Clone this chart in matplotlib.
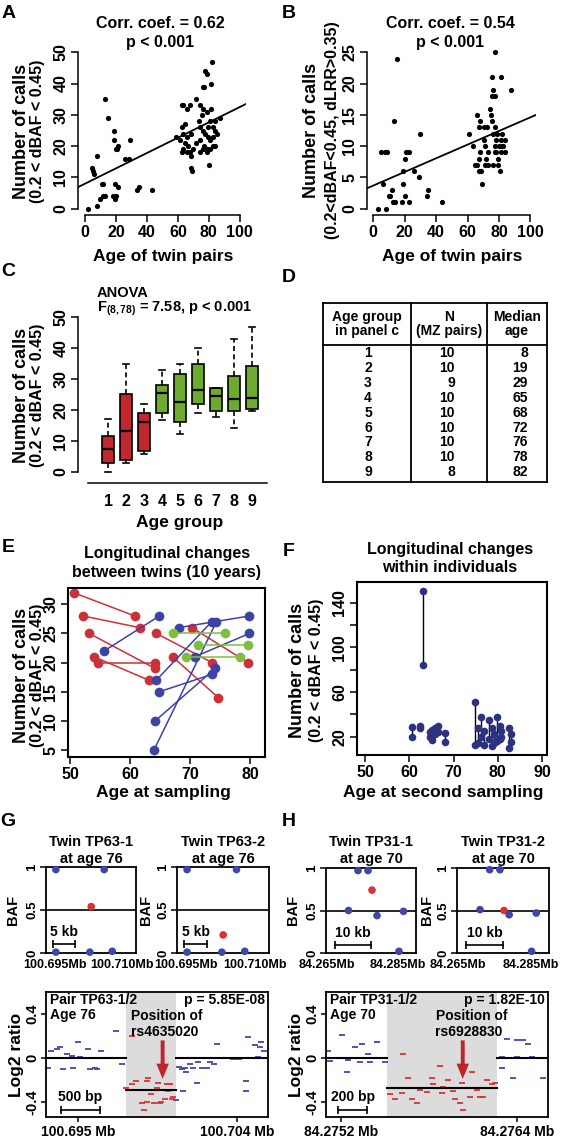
import matplotlib.pyplot as plt

plt.rcParams['font.family'] = ['Liberation Sans', 'DejaVu Sans']
plt.rcParams['font.weight'] = 'bold'
plt.rcParams['mathtext.fontset'] = 'custom'
plt.rcParams['mathtext.rm'] = 'Liberation Sans:bold'
plt.rcParams['mathtext.it'] = 'Liberation Sans:bold'
plt.rcParams['mathtext.bf'] = 'Liberation Sans:bold'
plt.rcParams['mathtext.default'] = 'rm'

# ---------------- data ----------------
# A: calls vs age of twin pairs
a_age = [2.2, 7.5, 4.3, 5.4, 6, 8, 9.7, 11.8, 10.8, 11.8, 12.9, 18.3, 19.4, 19.8, 19.4, 21.5,
         12.9, 14.6, 19, 19, 20, 21.5, 20.4, 29, 25.8, 28.6, 33.8, 35, 43,
         62.4, 63.4, 65.6, 67.7, 64.5, 62.4, 63.4, 59.1, 65.6, 68.8, 61.3, 64.5, 66.7, 63.4,
         65.6, 62.4, 68.8, 67.7, 69.9, 68.8, 69.4,
         72.0, 74.2, 76.3, 78.5, 75.3, 73.8, 74.2, 76.3, 77.4, 74.2, 72.0, 76.8, 78.5, 80.6,
         82.8, 76.3, 74.2, 78.5, 80.0,
         77.4, 78.5, 76.3, 76.8, 81.7, 82.2, 81.7, 80.6, 83.9, 87.0, 82.8, 83.9, 82.8, 83.9,
         79.6, 80.6, 79.6, 85.0]
a_calls = [0, 1, 13, 12, 11, 17, 3, 4, 8, 8, 4, 4, 3, 4, 8, 7,
           35, 29, 25, 22, 19, 20, 19, 22, 16, 16, 6, 7, 6,
           33, 33, 32, 33, 27, 26, 24, 23, 23, 24, 22, 21, 20, 19,
           18, 18, 17, 18, 19, 13, 12,
           35, 33, 32, 31, 30, 28, 26, 25, 24, 22, 21, 20, 19, 19,
           20, 19, 18, 18, 14,
           44, 43, 39, 39, 40, 47, 32, 28, 28, 29, 26, 25, 23, 20,
           23, 22, 26, 24]
a_fit = (8.0, 0.245)

# B: calls (with dLRR filter) vs age
b_age = [3, 8.3, 5.2, 7.3, 8.7, 6.5, 9.7, 10.7, 11.8, 12.5, 14, 13, 15, 18, 19, 20, 22.5,
         19, 20, 21, 22.5, 26, 29, 29.5, 34, 35, 43.7,
         60.7, 63.5, 65, 66, 67.1, 68.1, 67.1, 68.8, 69.2, 66, 67.7, 67.1, 70.3, 72.4, 70.3,
         71.4, 72, 72.9, 71.4, 74, 75, 75.5, 77.2, 76.1, 75.5, 77.2, 76.1, 75.5, 77.8, 78.3,
         77.2, 78.3, 79.4, 80.5, 80.5, 81.5, 82, 82.6, 83.6, 83.6, 81.5, 87.5, 79.4, 77.2,
         80, 81, 82, 79, 76, 73]
b_calls = [0, 0, 9, 9, 9, 4, 2, 2, 3, 1, 1, 14, 24, 1, 4, 2, 1,
           6, 8, 9, 9, 6, 5, 12, 2, 3, 1,
           12, 10, 7, 7, 8, 9, 6, 6, 4, 15, 14, 13, 13, 13, 11,
           10, 8, 9, 7, 16, 15, 14, 13, 12, 18, 18, 19, 21, 25, 11,
           10, 9, 8, 6, 10, 11, 12, 10, 11, 9, 21, 19, 7, 9,
           10, 9, 10, 12, 7, 7]
b_fit = (3.7, 0.109)

# C: boxplot per age group
c_group = [1, 2, 3, 4, 5, 6, 7, 8, 9]
c_whislo = [0, 2.7, 5.6, 16.7, 12, 19, 17.7, 14, 19.5]
c_q1 = [2.7, 3.8, 6.7, 19, 15.9, 21.8, 19.7, 19.7, 20.1]
c_med = [7.2, 13.2, 16.1, 25.5, 22.4, 26.3, 24.4, 23.3, 23.7]
c_q3 = [11.5, 25, 18.8, 28, 31.5, 34.7, 26.9, 30.9, 34.2]
c_whishi = [16.9, 34.7, 22, 32.8, 34.6, 39.8, 27, 42.7, 46.8]
c_young = [True, True, True, False, False, False, False, False, False]

# D: table
d_group = ['1', '2', '3', '4', '5', '6', '7', '8', '9']
d_pairs = ['10', '10', '9', '10', '10', '10', '10', '10', '8']
d_median = ['8', '19', '29', '65', '68', '72', '76', '78', '82']

# E: twin pairs sampled 10 years apart
e_age1 = [50.6, 52.2, 53.2, 54.0, 54.6, 64.4, 67.1, 70.3,
          55.7, 68.1, 64.4, 64.9, 64.2, 64.0, 70.8,
          67.2, 71.4, 69.4]
e_calls1 = [32, 28, 25, 21, 20, 25, 21, 26,
            22, 26, 17, 15, 10, 5, 21,
            25, 23, 21]
e_age2 = [60.8, 61.6, 64.2, 63.1, 64.2, 73.7, 74.7, 79.7,
          64.9, 79.9, 73.6, 73.7, 74.2, 74.4, 79.9,
          75.8, 79.7, 78.3]
e_calls2 = [28, 26, 19, 17, 20, 20, 14, 20,
            28, 28, 27, 18, 19, 27, 25,
            25, 23, 21]
e_trend = ['down'] * 8 + ['up'] * 7 + ['flat'] * 3

# F: individuals sampled twice
f_age = [60.6, 62.5, 64.6, 65.2, 65.7, 66.4, 68.0, 63.2, 74.9, 75.5, 76.2, 76.8,
         78.1, 78.6, 79.1, 79.8, 80.4, 80.8, 82.5, 82.9]
f_first = [29, 30, 24, 26, 28, 30, 23, 150, 51, 28, 38, 25, 35, 28, 22, 38, 30, 25, 28, 22]
f_second = [20, 28, 20, 17, 22, 24, 15, 84, 13, 14, 20, 13, 18, 12, 14, 16, 18, 20, 10, 15]

# G/H top: BAF at SNPs
g_snp_mb = [100.6952, 100.7060, 100.7031, 100.6952, 100.7028, 100.7078]
g1_baf = [0.97, 0.97, 0.54, 0.01, 0.01, 0.02]
g2_baf = [0.97, 0.97, 0.21, 0.01, 0.01, 0.02]
h_snp_mb = [84.27373, 84.27655, 84.27768, 84.27106, 84.27909, 84.28655, 84.28528]
h1_baf = [0.97, 0.97, 0.74, 0.50, 0.44, 0.49, 0.02]
h2_baf = [0.98, 0.98, 0.50, 0.51, 0.45, 0.47, 0.02]
g_test_snp = 2
h_test_snp = 2

# G/H bottom: log2 ratio probes (kb from first tick)
g_probe_kb = [-0.38, -0.34, -0.27, -0.23, -0.19, -0.145, -0.08, -0.06, 0.004, 0.026, 0.13, 0.15,
              0.22, 0.24, 0.30, 0.41, 0.49, 0.56,
              0.62, 0.69, 0.69, 0.75, 0.79, 0.82, 0.84, 0.88, 0.88, 0.90, 0.94, 0.97, 1.01,
              1.03, 1.05, 1.07, 1.12, 1.14, 1.16, 1.18, 1.20, 1.22, 1.26,
              1.29, 1.33, 1.35, 1.37, 1.39, 1.44, 1.48, 1.52, 1.54, 1.59, 1.65, 1.69, 1.74,
              1.78, 1.99, 2.06, 2.16, 2.16, 2.18, 2.27, 2.31, 2.33, 2.35, 2.38]
g_log2 = [-0.087, 0.062, 0.084, 0.10, -0.10, 0.037, 0.022, -0.087, 0.146, 0.012, 0.084, -0.10,
          -0.087, -0.10, 0.062, 0.0, 0.248, -0.05,
          -0.27, 0.20, -0.24, -0.21, -0.29, -0.41, -0.47, -0.40, -0.21, -0.18, -0.33, -0.41,
          -0.27, -0.23, -0.41, -0.40, -0.37, -0.24, -0.30, -0.24, -0.37, -0.35, -0.38,
          -0.08, -0.10, -0.30, -0.087, -0.13, -0.056, -0.087, -0.23, -0.04, -0.087, -0.087,
          -0.04, -0.056, 0.13, -0.01, -0.01, -0.21, -0.30, 0.19, 0.115, 0.006, 0.10, 0.146, 0.068]
g_region_kb = (0.615, 1.256)
g_seg_mean = (0.0, -0.29, 0.0)
g_ticks_kb = [0.0, 2.04]
g_tick_labels = ['100.695 Mb', '100.704 Mb']

h_probe_kb = [-0.086, -0.075, 0.005, 0.039, 0.05, 0.095, 0.13, 0.14, 0.186, 0.198, 0.243, 0.266,
              0.30,
              0.334, 0.368, 0.414, 0.425, 0.459, 0.482, 0.516, 0.539, 0.584, 0.618, 0.63, 0.675,
              0.686, 0.698, 0.732, 0.766, 0.777, 0.811, 0.823, 0.834, 0.88, 0.891, 0.925,
              0.948, 0.97, 0.993, 1.027, 1.05,
              1.095, 1.095, 1.13, 1.14, 1.175, 1.198, 1.198, 1.243, 1.277, 1.3, 1.38, 1.38]
h_log2 = [0.068, -0.025, 0.208, -0.124, -0.02, 0.10, -0.04, 0.124, 0.037, -0.04, 0.146, 0.0,
          -0.04,
          -0.33, -0.37, -0.32, 0.037, -0.18, -0.37, -0.41, -0.29, -0.31, -0.18, -0.24, -0.07,
          -0.32, -0.26, -0.20, -0.30, -0.37, -0.41, -0.23, -0.47, -0.35, -0.13, -0.29,
          -0.35, -0.35, -0.20, -0.24, -0.23,
          -0.087, 0.01, 0.177, 0.0, -0.18, 0.012, 0.16, 0.16, 0.13, 0.006, -0.18, 0.0]
h_region_kb = (0.311, 1.061)
h_seg_mean = (0.0, -0.27, 0.0)
h_ticks_kb = [0.0, 1.2]
h_tick_labels = ['84.2752 Mb', '84.2764 Mb']

RED = '#C3272E'
GREEN = '#6EAA2E'
E_RED = '#CC3038'
E_BLUE = '#3D43A3'
E_GREEN = '#82BE3E'
NAVY = '#2C3182'
P_BLUE = '#3F46A8'
P_RED = '#D93232'

# ---------------- figure ----------------
W, H = 561, 1142
fig = plt.figure(figsize=(W / 100, H / 100), dpi=100)


def px_axes(l, t, r, b):
    return fig.add_axes([l / W, 1 - b / H, (r - l) / W, (b - t) / H])


def ftxt(x, y, s, size=11, **kw):
    kw.setdefault('ha', 'center')
    kw.setdefault('va', 'center')
    return fig.text(x / W, 1 - y / H, s, fontsize=size, fontweight='bold', **kw)


def r_style(ax, xb, yb):
    for s in ('top', 'right'):
        ax.spines[s].set_visible(False)
    ax.spines['left'].set_bounds(*yb)
    ax.spines['bottom'].set_bounds(*xb)
    for s in ('left', 'bottom'):
        ax.spines[s].set_linewidth(1.1)
    ax.tick_params(direction='out', length=5, width=1.1, labelsize=11.5, pad=2)


def rot_y(ax):
    plt.setp(ax.get_yticklabels(), rotation=90, va='center')


def ylab2(x1, x2, y, second):
    ftxt(x1, y, 'Number of calls', 13, rotation=90)
    ftxt(x2, y, second, 11.5, rotation=90)


# panel letters
for lab, x, y in [('A', 9, 13), ('B', 289, 13), ('C', 8, 271), ('D', 289, 277),
                  ('E', 8, 547), ('F', 289, 551), ('G', 8, 821), ('H', 289, 821)]:
    ftxt(x, y, lab, 14)

# ---- A ----
ax = px_axes(78, 46, 246, 215)
ax.scatter(a_age, a_calls, s=14, color='black', zorder=3, linewidths=0)
ax.axline((0, a_fit[0]), slope=a_fit[1], color='black', lw=1.3)
ax.set_xlim(-4.5, 104)
ax.set_ylim(-2, 52)
ax.set_xticks(range(0, 101, 20))
ax.set_yticks(range(0, 51, 10))
r_style(ax, (0, 100), (0, 50))
rot_y(ax)
ftxt(160, 23, 'Corr. coef. = 0.62', 11.5)
ftxt(160, 43, 'p < 0.001', 11.5)
ftxt(163, 257, 'Age of twin pairs', 12.5)
ylab2(22, 38, 131, '(0.2 < dBAF < 0.45)')

# ---- B ----
ax = px_axes(367, 46, 536, 215)
ax.scatter(b_age, b_calls, s=14, color='black', zorder=3, linewidths=0)
ax.axline((0, b_fit[0]), slope=b_fit[1], color='black', lw=1.3)
ax.set_xlim(-4, 103.6)
ax.set_ylim(-1, 26)
ax.set_xticks(range(0, 101, 20))
ax.set_yticks(range(0, 26, 5))
r_style(ax, (0, 100), (0, 25))
rot_y(ax)
ftxt(450, 23, 'Corr. coef. = 0.54', 11.5)
ftxt(450, 43, 'p < 0.001', 11.5)
ftxt(452, 257, 'Age of twin pairs', 12.5)
ylab2(312, 333, 130, '(0.2<dBAF<0.45, dLRR>0.35)')

# ---- C ----
ax = px_axes(78, 313, 267, 483)
stats = []
for i in range(len(c_group)):
    stats.append(dict(med=c_med[i], q1=c_q1[i], q3=c_q3[i],
                      whislo=c_whislo[i], whishi=c_whishi[i], fliers=[]))
bp = ax.bxp(stats, positions=c_group, widths=0.72, patch_artist=True, showfliers=False,
            capwidths=0.36,
            boxprops=dict(linewidth=1.2, edgecolor='black'),
            whiskerprops=dict(linewidth=1.2, linestyle=(0, (3, 2))),
            capprops=dict(linewidth=1.2),
            medianprops=dict(color='black', linewidth=1.6))
for patch, young in zip(bp['boxes'], c_young):
    patch.set_facecolor(RED if young else GREEN)
ax.set_xlim(-0.667, 9.833)
ax.set_ylim(-3.65, 51.2)
ax.set_xticks(c_group)
ax.set_yticks(range(0, 51, 10))
r_style(ax, (-0.11, 9.83), (0, 50))
ax.tick_params(axis='x', length=0, pad=8)
rot_y(ax)
ftxt(97, 293, 'ANOVA', 10.5, ha='left')
ftxt(97, 309, r'F$_{\mathrm{(8,78)}}$ = 7.58, p < 0.001', 10.5, ha='left')
ftxt(180, 522, 'Age group', 12.5)
ylab2(22, 38, 395, '(0.2 < dBAF < 0.45)')

# ---- D (table) ----
ax = px_axes(280, 220, 561, 480)
ax.set_xlim(280, 561)
ax.set_ylim(480, 220)
ax.axis('off')
tl, tr, tt, tb = 323, 547, 303, 482
for xs, ys in [([tl, tr], [tt, tt]), ([tl, tr], [tb, tb]), ([tl, tl], [tt, tb]),
               ([tr, tr], [tt, tb]), ([411, 411], [tt, tb]), ([487, 487], [tt, tb]),
               ([tl, tr], [345, 345])]:
    ax.plot(xs, ys, color='black', lw=1.3, clip_on=False)
ax.text(367, 324, 'Age group\nin panel c', ha='center', va='center', fontsize=10,
        linespacing=1.0)
ax.text(449, 324, 'N\n(MZ pairs)', ha='center', va='center', fontsize=10, linespacing=1.0)
ax.text(517, 324, 'Median\nage', ha='center', va='center', fontsize=10, linespacing=1.0)
for i in range(len(d_group)):
    yy = 353 + i * 14.9
    ax.text(368, yy, d_group[i], ha='center', va='center', fontsize=10)
    ax.text(455, yy, d_pairs[i], ha='right', va='center', fontsize=10)
    ax.text(528, yy, d_median[i], ha='right', va='center', fontsize=10)

# ---- E ----
ax = px_axes(68, 588, 265, 757)
ecol = {'down': E_RED, 'up': E_BLUE, 'flat': E_GREEN}
for trend in ('down', 'up', 'flat'):
    for i in range(len(e_age1)):
        if e_trend[i] != trend:
            continue
        ax.plot([e_age1[i], e_age2[i]], [e_calls1[i], e_calls2[i]], '-o', color=ecol[trend],
                lw=1.1, ms=7, mew=0)
ax.set_xlim(49.67, 82.5)
ax.set_ylim(3.8, 32.8)
ax.set_xticks([50, 60, 70, 80])
ax.set_yticks(range(5, 31, 5))
for s in ax.spines.values():
    s.set_linewidth(1.5)
ax.tick_params(direction='out', length=5, width=1.1, labelsize=11.5, pad=2)
rot_y(ax)
ftxt(167, 553, 'Longitudinal changes', 11.5)
ftxt(167, 572, 'between twins (10 years)', 11.5)
ftxt(163, 793, 'Age at sampling', 12.5)
ylab2(22, 38, 675, '(0.2 < dBAF < 0.45)')

# ---- F ----
ax = px_axes(357, 582, 547, 755)
for i in range(len(f_age)):
    ax.plot([f_age[i], f_age[i]], [f_first[i], f_second[i]], color='black', lw=1.0)
ax.plot(f_age, f_first, 'o', color=NAVY, ms=5.5, mew=0)
ax.plot(f_age, f_second, 'o', color=NAVY, ms=5.5, mew=0)
ax.set_xlim(48.2, 91.1)
ax.set_ylim(3.6, 158.5)
ax.set_xticks(range(50, 91, 10))
ax.set_yticks(range(20, 141, 20))
ax.set_yticklabels(['20', '', '60', '', '100', '', '140'])
for s in ax.spines.values():
    s.set_linewidth(1.5)
ax.tick_params(direction='out', length=5, width=1.1, labelsize=11.5, pad=2)
rot_y(ax)
ftxt(450, 550, 'Longitudinal changes', 11.5)
ftxt(450, 568, 'within individuals', 11.5)
ftxt(443, 793, 'Age at second sampling', 12.5)
ylab2(298, 317, 670, '(0.2 < dBAF < 0.45)')


# ---- G/H top BAF panels ----
def baf_panel(box, pos, baf, test, xlim, ticks, labels, bar_x0, bar_len, bar_lab, title, ylab_x):
    ax = px_axes(*box)
    ax.axhline(0.5, color='black', lw=1.2)
    cols = [P_RED if i == test else P_BLUE for i in range(len(pos))]
    ax.scatter(pos, baf, s=30, c=cols, zorder=3, clip_on=False, linewidths=0)
    ax.set_xlim(*xlim)
    ax.set_ylim(0, 1)
    ax.set_xticks(ticks)
    ax.set_xticklabels(labels)
    ax.set_yticks([0, 0.5, 1])
    ax.set_yticklabels(['0', '0.5', '1'])
    for s in ax.spines.values():
        s.set_linewidth(1.3)
    ax.tick_params(axis='x', length=0, labelsize=9, pad=4)
    ax.tick_params(axis='y', direction='out', length=4, width=1.1, labelsize=9.5, pad=1.5)
    rot_y(ax)
    ax.plot([bar_x0, bar_x0 + bar_len], [0.1, 0.1], color='black', lw=1.2,
            marker='|', ms=6, mew=1.2)
    ax.text(bar_x0 + bar_len / 2, 0.24, bar_lab, ha='center', va='center', fontsize=10)
    cx = (box[0] + box[2]) / 2
    ftxt(cx, 842, title[0], 10.5)
    ftxt(cx, 859, title[1], 10.5)
    ftxt(ylab_x, 910, 'BAF', 10.5, rotation=90)


g_xlim = (100.6930, 100.7131)
h_xlim = (84.26472, 84.29007)
baf_panel((46, 867, 136, 953), g_snp_mb, g1_baf, g_test_snp, g_xlim, [100.695, 100.710],
          ['100.695Mb', '100.710Mb'], 100.69457, 0.005, '5 kb', ('Twin TP63-1', 'at age 76'), 13)
baf_panel((177, 867, 269, 953), g_snp_mb, g2_baf, g_test_snp, g_xlim, [100.695, 100.710],
          ['100.695Mb', '100.710Mb'], 100.69457, 0.005, '5 kb', ('Twin TP63-2', 'at age 76'), 146)
baf_panel((326, 868, 416, 953), h_snp_mb, h1_baf, h_test_snp, h_xlim, [84.265, 84.285],
          ['84.265Mb', '84.285Mb'], 84.26726, 0.010, '10 kb', ('Twin TP31-1', 'at age 70'), 293)
baf_panel((457, 868, 549, 953), h_snp_mb, h2_baf, h_test_snp, h_xlim, [84.265, 84.285],
          ['84.265Mb', '84.285Mb'], 84.26726, 0.010, '10 kb', ('Twin TP31-2', 'at age 70'), 427)


# ---- G/H bottom log2 ratio panels ----
def cnv_panel(box, kb, lr, region, seg, ticks, labels, xlim, arrow_x, bar_x0, bar_len, bar_lab,
              pair, age, pval, snp, ylab_x):
    ax = px_axes(*box)
    ax.axvspan(region[0], region[1], color='#DCDCDC', lw=0, zorder=0)
    inside = [region[0] <= k <= region[1] for k in kb]
    ax.scatter([k for k, f in zip(kb, inside) if not f], [v for v, f in zip(lr, inside) if not f],
               marker='_', s=22, color=P_BLUE, linewidths=1.3, zorder=2)
    ax.scatter([k for k, f in zip(kb, inside) if f], [v for v, f in zip(lr, inside) if f],
               marker='_', s=22, color=P_RED, linewidths=1.3, zorder=2)
    bounds = [xlim[0], region[0], region[1], xlim[1]]
    for j in range(3):
        ax.plot([bounds[j], bounds[j + 1]], [seg[j], seg[j]], color='black', lw=1.5, zorder=3)
    ax.annotate('', xy=(arrow_x, -0.19), xytext=(arrow_x, 0.16),
                arrowprops=dict(width=2.8, headwidth=9, headlength=11, color='#C0232B', lw=0),
                zorder=4)
    ax.set_xlim(*xlim)
    ax.set_ylim(-0.536, 0.6)
    ax.set_xticks(ticks)
    ax.set_xticklabels(labels)
    ax.set_yticks([-0.4, 0, 0.4])
    ax.set_yticklabels(['-0.4', '0', '0.4'])
    for s in ax.spines.values():
        s.set_linewidth(1.3)
    ax.tick_params(direction='out', length=3.5, width=1.1, labelsize=10.5, pad=1)
    ax.tick_params(axis='x', labelsize=10, pad=2)
    rot_y(ax)
    ax.plot([bar_x0, bar_x0 + bar_len], [-0.47, -0.47], color='black', lw=1.2,
            marker='|', ms=6, mew=1.2)
    ax.text(bar_x0 + bar_len / 2, -0.35, bar_lab, ha='center', va='center', fontsize=10)
    l, t, r, b = box
    ftxt(l + 4, 1004, pair, 10, ha='left', va='baseline')
    ftxt(l + 4, 1019, age, 10, ha='left', va='baseline')
    ftxt(r - 3, 1004, pval, 10, ha='right', va='baseline')
    ax.text(arrow_x + (region[1] - region[0]) * 0.08, 0.35, 'Position of', ha='center',
            va='baseline', fontsize=10)
    ax.text(arrow_x + (region[1] - region[0]) * 0.05, 0.20, snp, ha='center', va='baseline',
            fontsize=10)
    ftxt(ylab_x, 1055, 'Log2 ratio', 12.5, rotation=90)


cnv_panel((46, 992, 268, 1117), g_probe_kb, g_log2, g_region_kb, g_seg_mean, g_ticks_kb,
          g_tick_labels, (-0.41, 2.436), 1.085, -0.218, 0.5, '500 bp', 'Pair TP63-1/2', 'Age 76',
          'p = 5.85E-08', 'rs4635020', 17)
cnv_panel((326, 992, 548, 1117), h_probe_kb, h_log2, h_region_kb, h_seg_mean, h_ticks_kb,
          h_tick_labels, (-0.102, 1.411), 0.83, -0.02, 0.2, '200 bp', 'Pair TP31-1/2', 'Age 70',
          'p = 1.82E-10', 'rs6928830', 297)

fig.savefig('out.png', dpi=100)
